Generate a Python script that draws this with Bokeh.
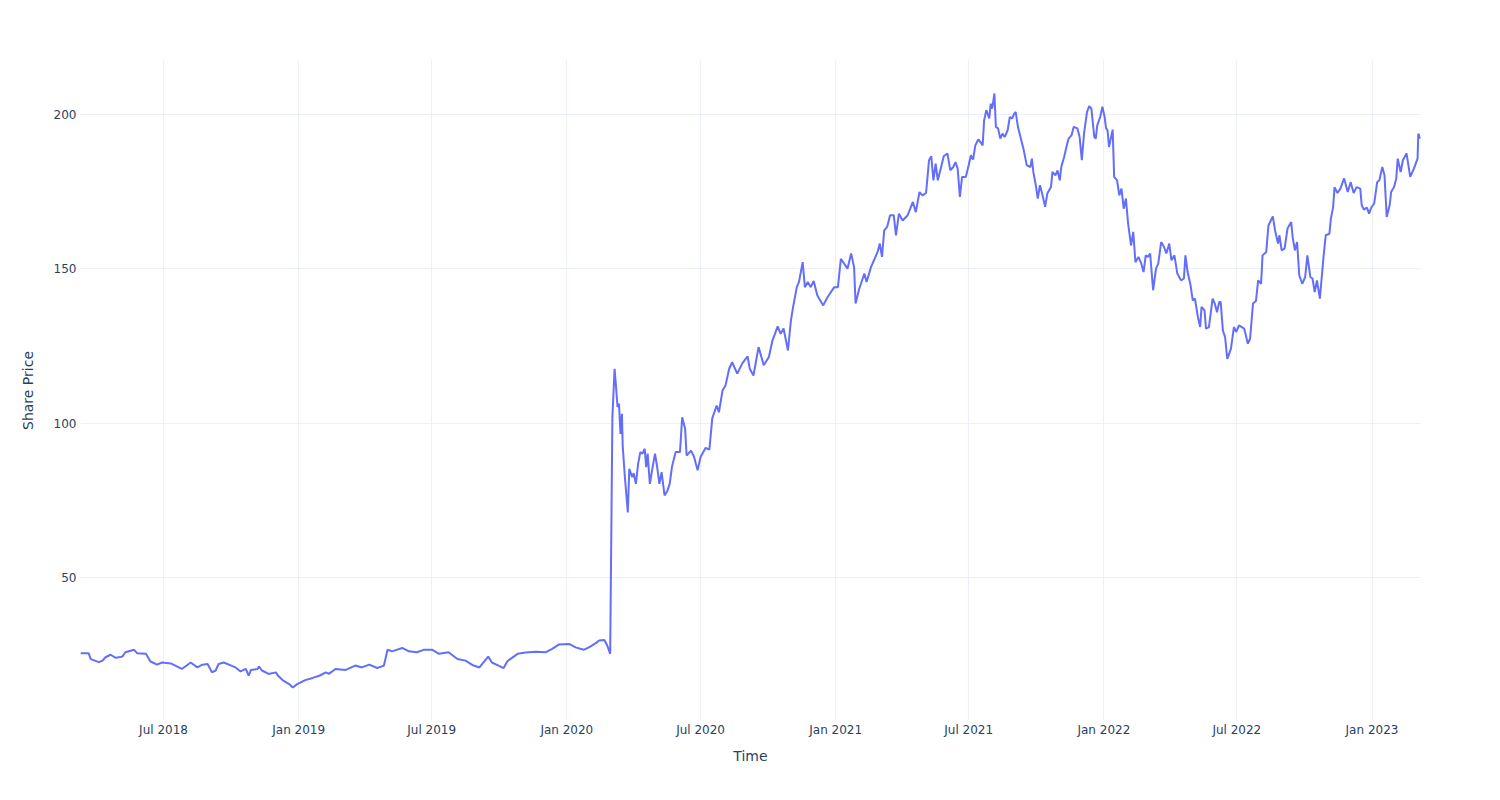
import pandas as pd
from bokeh.plotting import figure
from bokeh.models import Range1d, DatetimeTickFormatter, MonthsTicker, SingleIntervalTicker, ColumnDataSource
from bokeh.embed import file_html
from bokeh.resources import INLINE

# ---- data ----
start_date = "2018-03-10"
day_offset = [
    0, 11, 14, 25, 30, 34, 41, 48, 57, 61,
    73, 77, 89, 95, 104, 111, 123, 129, 138, 150,
    159, 166, 173, 179, 184, 188, 195, 202, 211, 218,
    225, 229, 232, 241, 243, 247, 256, 266, 269, 275,
    284, 289, 295, 306, 316, 325, 334, 338, 347, 361,
    374, 383, 393, 404, 413, 418, 424, 438, 447, 458,
    467, 479, 488, 501, 513, 524, 535, 543, 555, 560,
    569, 576, 581, 595, 606, 620, 633, 642, 651, 665,
    674, 685, 692, 701, 706, 713, 717, 721, 724, 727,
    729, 731, 733, 735, 737, 738, 741, 745, 747, 751,
    753, 756, 759, 762, 765, 768, 770, 772, 775, 778,
    782, 785, 788, 791, 795, 799, 802, 805, 810, 816,
    819, 823, 825, 831, 835, 840, 844, 851, 856, 860,
    866, 869, 874, 878, 883, 887, 894, 901, 908, 911,
    916, 923, 930, 937, 942, 949, 953, 957, 963, 967,
    970, 975, 978, 983, 986, 990, 994, 998, 1003, 1011,
    1017, 1026, 1031, 1035, 1044, 1049, 1053, 1055, 1060, 1067,
    1070, 1076, 1080, 1085, 1088, 1091, 1094, 1098, 1102, 1107,
    1110, 1114, 1119, 1126, 1133, 1137, 1142, 1146, 1151, 1155,
    1158, 1161, 1164, 1167, 1171, 1175, 1180, 1184, 1188, 1191,
    1194, 1197, 1200, 1205, 1209, 1212, 1215, 1218, 1222, 1225,
    1228, 1230, 1233, 1237, 1239, 1241, 1244, 1246, 1249, 1252,
    1255, 1258, 1262, 1265, 1268, 1271, 1273, 1276, 1280, 1284,
    1288, 1293, 1295, 1297, 1300, 1303, 1306, 1309, 1313, 1316,
    1321, 1323, 1327, 1330, 1333, 1335, 1339, 1342, 1345, 1349,
    1352, 1357, 1360, 1363, 1366, 1370, 1373, 1376, 1380, 1382,
    1384, 1388, 1391, 1394, 1396, 1398, 1400, 1405, 1407, 1411,
    1414, 1417, 1420, 1423, 1426, 1430, 1433, 1436, 1440, 1444,
    1447, 1450, 1453, 1456, 1460, 1464, 1467, 1471, 1475, 1478,
    1482, 1485, 1489, 1493, 1498, 1502, 1504, 1507, 1511, 1514,
    1517, 1521, 1524, 1526, 1530, 1532, 1536, 1541, 1544, 1547,
    1550, 1552, 1555, 1558, 1561, 1566, 1570, 1573, 1577, 1584,
    1589, 1592, 1596, 1600, 1603, 1607, 1609, 1614, 1617, 1623,
    1626, 1630, 1632, 1635, 1639, 1643, 1648, 1650, 1653, 1656,
    1659, 1663, 1667, 1670, 1674, 1677, 1680, 1683, 1687, 1689,
    1692, 1695, 1700, 1702, 1705, 1707, 1711, 1715, 1720, 1725,
    1729, 1733, 1737, 1742, 1744, 1747, 1751, 1754, 1757, 1761,
    1765, 1768, 1772, 1775, 1778, 1782, 1784, 1788, 1791, 1793,
    1797, 1800, 1805, 1810, 1815, 1820, 1821, 1824,
]
share_price = [
    25.5, 25.5, 23.6, 22.6, 23.1, 24.2, 25.0, 24.0, 24.4, 25.8,
    26.6, 25.5, 25.3, 22.9, 21.8, 22.5, 22.2, 21.5, 20.4, 22.5,
    20.9, 21.8, 22.0, 19.3, 19.9, 22.0, 22.5, 21.8, 20.9, 19.6,
    20.4, 18.2, 20.1, 20.4, 21.2, 19.9, 18.8, 19.3, 18.2, 16.8,
    15.5, 14.4, 15.5, 16.8, 17.5, 18.2, 19.3, 18.8, 20.4, 20.1,
    21.5, 20.9, 21.8, 20.7, 21.5, 26.6, 26.1, 27.2, 26.1, 25.8,
    26.6, 26.6, 25.3, 25.8, 23.6, 23.1, 21.5, 20.9, 24.4, 22.5,
    21.5, 20.7, 22.9, 25.3, 25.7, 26.0, 25.8, 26.9, 28.3, 28.5,
    27.4, 26.6, 27.4, 28.7, 29.6, 29.8, 28.0, 25.3, 101.9, 117.6,
    111.6, 105.2, 106.3, 96.5, 103.0, 92.8, 82.5, 71.1, 85.2, 82.5,
    83.8, 80.3, 86.8, 90.6, 90.1, 91.7, 85.7, 90.1, 80.3, 84.7,
    90.1, 85.7, 80.3, 84.1, 76.6, 78.2, 80.3, 85.7, 90.6, 90.6,
    101.9, 98.2, 89.5, 91.1, 89.2, 84.7, 89.0, 92.0, 91.4, 101.6,
    105.7, 103.5, 110.6, 112.2, 117.6, 119.7, 116.0, 119.4, 121.6, 117.6,
    115.4, 124.6, 118.7, 121.4, 126.8, 131.3, 128.9, 130.6, 123.5, 133.2,
    137.6, 144.0, 145.7, 152.1, 144.0, 145.7, 144.0, 146.0, 141.3, 138.1,
    140.8, 144.0, 144.0, 153.2, 150.0, 154.9, 150.5, 138.7, 143.5, 148.4,
    145.7, 150.5, 152.7, 155.4, 158.1, 153.8, 162.4, 163.5, 167.3, 167.3,
    160.8, 167.8, 165.6, 167.3, 171.6, 168.3, 174.8, 173.7, 174.5, 185.1,
    186.4, 178.6, 184.0, 178.6, 182.4, 186.4, 187.3, 181.8, 182.9, 184.5,
    182.4, 173.2, 179.7, 179.7, 183.5, 186.7, 185.3, 189.9, 191.8, 191.0,
    189.9, 198.0, 201.3, 198.6, 203.4, 201.8, 206.7, 195.9, 195.4, 192.1,
    193.7, 192.6, 194.8, 199.1, 198.6, 200.2, 200.7, 195.9, 192.1, 188.3,
    183.5, 182.9, 185.6, 181.3, 177.5, 172.7, 177.0, 174.3, 170.0, 174.3,
    176.4, 181.3, 180.2, 181.8, 178.6, 182.9, 186.2, 189.4, 192.1, 193.2,
    195.9, 195.4, 192.6, 185.1, 193.7, 200.7, 202.6, 201.8, 192.6, 192.1,
    196.4, 199.1, 202.4, 199.1, 195.4, 194.8, 189.4, 195.0, 179.7, 178.6,
    173.7, 175.9, 169.4, 172.7, 164.6, 157.5, 161.9, 152.1, 153.8, 151.6,
    148.9, 154.3, 153.8, 154.9, 143.0, 150.0, 151.6, 158.6, 157.0, 154.9,
    158.1, 152.7, 154.3, 148.4, 146.2, 146.8, 154.3, 148.9, 144.6, 139.7,
    140.3, 134.3, 131.1, 137.6, 136.5, 130.6, 131.1, 140.3, 138.7, 135.9,
    139.2, 139.2, 130.0, 127.8, 120.8, 124.1, 131.1, 129.5, 131.6, 130.6,
    125.7, 127.3, 138.7, 139.5, 146.2, 145.1, 154.3, 155.4, 164.0, 166.9,
    162.4, 158.1, 160.8, 155.9, 156.5, 163.0, 165.1, 160.2, 155.9, 158.6,
    147.8, 145.1, 147.3, 154.3, 147.3, 146.8, 142.4, 146.2, 140.3, 145.7,
    153.8, 160.8, 161.3, 166.2, 169.8, 176.4, 174.5, 175.9, 179.2, 174.8,
    178.0, 174.5, 176.4, 175.9, 170.5, 169.1, 169.8, 167.8, 169.8, 171.1,
    178.0, 178.6, 182.9, 180.2, 166.7, 170.5, 174.8, 176.4, 179.2, 185.6,
    181.3, 185.1, 187.3, 179.7, 182.4, 185.6, 193.7, 192.1,
]
x_title = "Time"
y_title = "Share Price"

# ---- build ----
n = min(len(day_offset), len(share_price))
dates = pd.Timestamp(start_date) + pd.to_timedelta(day_offset[:n], unit="D")
prices = share_price[:n]
src = ColumnDataSource(dict(date=dates, price=prices))

lo, hi = min(prices), max(prices)
pad = (hi - lo) / 18.0

TXT = "#2a3f5f"
GRID = "#EBF0F8"
FONT = "DejaVu Sans"

p = figure(width=1500, height=800, x_axis_type="datetime",
           output_backend="svg", toolbar_location=None,
           x_range=Range1d(dates.min(), dates.max()),
           y_range=Range1d(lo - pad, hi + pad),
           min_border_left=80, min_border_right=80,
           min_border_top=60, min_border_bottom=80)
p.outline_line_color = None
p.background_fill_color = "white"
p.border_fill_color = "white"

p.line("date", "price", source=src, line_color="#636efa", line_width=2)

p.xaxis.ticker = MonthsTicker(months=[0, 6])
p.xaxis.formatter = DatetimeTickFormatter(months="%b %Y", days="%b %Y", years="%Y")
p.yaxis.ticker = SingleIntervalTicker(interval=50)

for ax in (p.xaxis[0], p.yaxis[0]):
    ax.axis_line_color = None
    ax.major_tick_line_color = None
    ax.minor_tick_line_color = None
    ax.major_tick_out = 0
    ax.major_tick_in = 0
    ax.major_label_text_color = TXT
    ax.major_label_text_font = FONT
    ax.major_label_text_font_size = "12px"
    ax.axis_label_text_color = TXT
    ax.axis_label_text_font = FONT
    ax.axis_label_text_font_size = "14px"
    ax.axis_label_text_font_style = "normal"

p.xaxis.axis_label = x_title
p.yaxis.axis_label = y_title
p.xaxis.major_label_standoff = 2
p.xaxis.axis_label_standoff = 8
p.yaxis.major_label_standoff = 0
p.yaxis.axis_label_standoff = 15

p.xgrid.grid_line_color = GRID
p.ygrid.grid_line_color = GRID
p.xgrid.grid_line_width = 1
p.ygrid.grid_line_width = 1

open("out.html", "w").write(file_html(p, INLINE))
